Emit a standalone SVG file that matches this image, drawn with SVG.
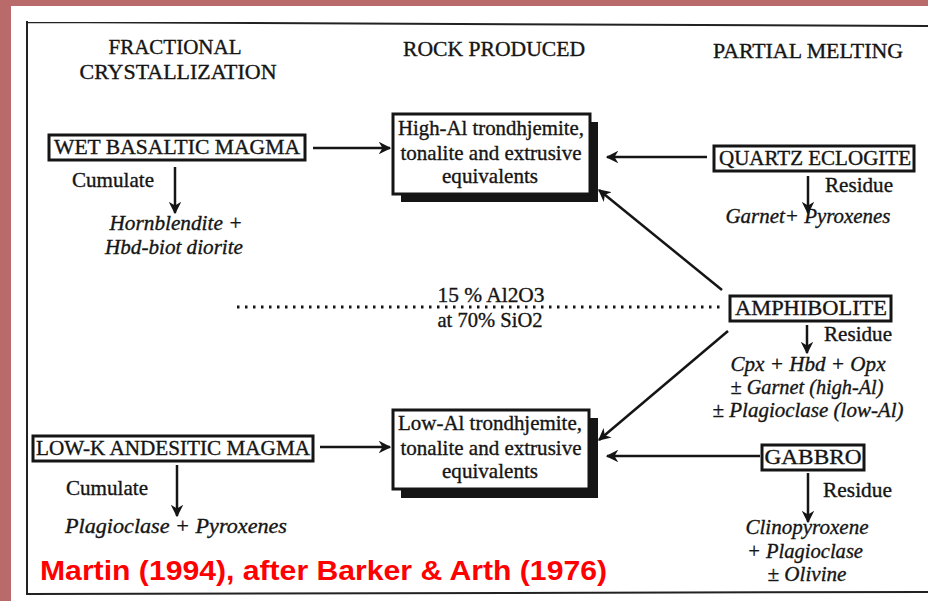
<svg xmlns="http://www.w3.org/2000/svg" width="928" height="601" viewBox="0 0 928 601">
<style>
.t{font-family:"Liberation Serif","Times New Roman",serif;font-size:21px;fill:#151515;stroke:#151515;stroke-width:0.35}
.i{font-style:italic}
.c{text-anchor:middle}
.box{fill:#fff;stroke:#151515;stroke-width:3}
.sh{fill:#151515}
.ln{stroke:#151515;stroke-width:2.5;fill:none}
</style>
<defs>
<marker id="ah" viewBox="0 0 10 10" refX="9" refY="5" markerWidth="5" markerHeight="5" orient="auto" markerUnits="strokeWidth">
<path d="M0,0 L10,5 L0,10 L3,5 z" fill="#151515"/>
</marker>
</defs>
<rect x="0" y="0" width="928" height="601" fill="#fff"/>
<rect x="0" y="0" width="928" height="6" fill="#b96a6a"/>
<rect x="0" y="0" width="11" height="601" fill="#b96a6a"/>
<path d="M27,22 L928,26 M27,21 L27,595 M27,594 L928,592" stroke="#222" stroke-width="2" fill="none"/>

<g id="headers">
<text class="t c" x="175" y="54" textLength="133" lengthAdjust="spacingAndGlyphs">FRACTIONAL</text>
<text class="t c" x="178" y="79" textLength="197" lengthAdjust="spacingAndGlyphs">CRYSTALLIZATION</text>
<text class="t c" x="494" y="56" textLength="182" lengthAdjust="spacingAndGlyphs">ROCK PRODUCED</text>
<text class="t c" x="808" y="58" textLength="190" lengthAdjust="spacingAndGlyphs">PARTIAL MELTING</text>
</g>

<g id="connectors">
<line class="ln" x1="313" y1="148" x2="390" y2="148" marker-end="url(#ah)"/>
<line class="ln" x1="707" y1="157" x2="607" y2="157" marker-end="url(#ah)"/>
<line class="ln" x1="722" y1="290" x2="599" y2="190" marker-end="url(#ah)"/>
<line class="ln" x1="728" y1="331" x2="599" y2="440" marker-end="url(#ah)"/>
<line class="ln" x1="320" y1="447" x2="390" y2="447" marker-end="url(#ah)"/>
<line class="ln" x1="760" y1="456" x2="607" y2="456" marker-end="url(#ah)"/>
<line class="ln" x1="175" y1="167" x2="175" y2="213" marker-end="url(#ah)"/>
<line class="ln" x1="177" y1="465" x2="177" y2="516" marker-end="url(#ah)"/>
<line class="ln" x1="808" y1="176" x2="808" y2="213" marker-end="url(#ah)"/>
<line class="ln" x1="807" y1="325" x2="807" y2="353" marker-end="url(#ah)"/>
<line class="ln" x1="808" y1="473" x2="808" y2="522" marker-end="url(#ah)"/>
<line x1="237" y1="307" x2="720" y2="307" stroke="#151515" stroke-width="3" stroke-dasharray="2.5 5.5"/>
</g>

<g id="wet-basaltic-magma">
<rect class="box" x="49" y="135" width="256" height="25"/>
<text class="t c" x="177" y="154" textLength="246" lengthAdjust="spacingAndGlyphs">WET BASALTIC MAGMA</text>
<text class="t" x="72" y="187" textLength="82" lengthAdjust="spacingAndGlyphs">Cumulate</text>
<text class="t c i" x="176" y="230" textLength="133" lengthAdjust="spacingAndGlyphs">Hornblendite +</text>
<text class="t c i" x="174" y="254" textLength="138" lengthAdjust="spacingAndGlyphs">Hbd-biot diorite</text>
</g>

<g id="high-al">
<rect class="sh" x="401" y="122" width="197" height="80"/>
<rect class="box" x="393" y="114" width="197" height="80"/>
<text class="t c" x="491" y="135" textLength="186" lengthAdjust="spacingAndGlyphs">High-Al trondhjemite,</text>
<text class="t c" x="491" y="160" textLength="181" lengthAdjust="spacingAndGlyphs">tonalite and extrusive</text>
<text class="t c" x="490" y="183" textLength="96" lengthAdjust="spacingAndGlyphs">equivalents</text>
</g>

<g id="quartz-eclogite">
<rect class="box" x="714" y="146" width="200" height="25"/>
<text class="t c" x="815" y="165" textLength="192" lengthAdjust="spacingAndGlyphs">QUARTZ ECLOGITE</text>
<text class="t" x="825" y="192" textLength="68" lengthAdjust="spacingAndGlyphs">Residue</text>
<text class="t c i" x="808" y="223" textLength="165" lengthAdjust="spacingAndGlyphs">Garnet+ Pyroxenes</text>
</g>

<g id="divider-label">
<text class="t c" x="491" y="302" textLength="107" lengthAdjust="spacingAndGlyphs">15 % Al2O3</text>
<text class="t c" x="490" y="327" textLength="105" lengthAdjust="spacingAndGlyphs">at 70% SiO2</text>
</g>

<g id="amphibolite">
<rect class="box" x="730" y="296" width="161" height="25"/>
<text class="t c" x="811" y="315" textLength="152" lengthAdjust="spacingAndGlyphs">AMPHIBOLITE</text>
<text class="t" x="824" y="341" textLength="68" lengthAdjust="spacingAndGlyphs">Residue</text>
<text class="t c i" x="808" y="371" textLength="155" lengthAdjust="spacingAndGlyphs">Cpx + Hbd + Opx</text>
<text class="t c i" x="807" y="394" textLength="153" lengthAdjust="spacingAndGlyphs">± Garnet (high-Al)</text>
<text class="t c i" x="808" y="417" textLength="191" lengthAdjust="spacingAndGlyphs">± Plagioclase (low-Al)</text>
</g>

<g id="low-al">
<rect class="sh" x="401" y="418" width="197" height="80"/>
<rect class="box" x="393" y="410" width="196" height="79"/>
<text class="t c" x="490" y="430" textLength="184" lengthAdjust="spacingAndGlyphs">Low-Al trondhjemite,</text>
<text class="t c" x="491" y="455" textLength="181" lengthAdjust="spacingAndGlyphs">tonalite and extrusive</text>
<text class="t c" x="490" y="478" textLength="96" lengthAdjust="spacingAndGlyphs">equivalents</text>
</g>

<g id="low-k-andesitic-magma">
<rect class="box" x="33" y="436" width="280" height="25"/>
<text class="t c" x="173" y="455" textLength="274" lengthAdjust="spacingAndGlyphs">LOW-K ANDESITIC MAGMA</text>
<text class="t" x="66" y="495" textLength="82" lengthAdjust="spacingAndGlyphs">Cumulate</text>
<text class="t c i" x="176" y="533" textLength="222" lengthAdjust="spacingAndGlyphs">Plagioclase + Pyroxenes</text>
</g>

<g id="gabbro">
<rect class="box" x="762" y="445" width="102" height="25"/>
<text class="t c" x="813" y="464" textLength="97" lengthAdjust="spacingAndGlyphs">GABBRO</text>
<text class="t" x="823" y="497" textLength="69" lengthAdjust="spacingAndGlyphs">Residue</text>
<text class="t c i" x="807" y="534" textLength="123" lengthAdjust="spacingAndGlyphs">Clinopyroxene</text>
<text class="t c i" x="805" y="558" textLength="116" lengthAdjust="spacingAndGlyphs">+ Plagioclase</text>
<text class="t c i" x="807" y="581" textLength="79" lengthAdjust="spacingAndGlyphs">± Olivine</text>
</g>

<text x="40" y="580" font-family="Liberation Sans, Arial, sans-serif" font-size="27" font-weight="bold" fill="#ff0000" textLength="567" lengthAdjust="spacingAndGlyphs">Martin (1994), after Barker &amp; Arth (1976)</text>
</svg>
